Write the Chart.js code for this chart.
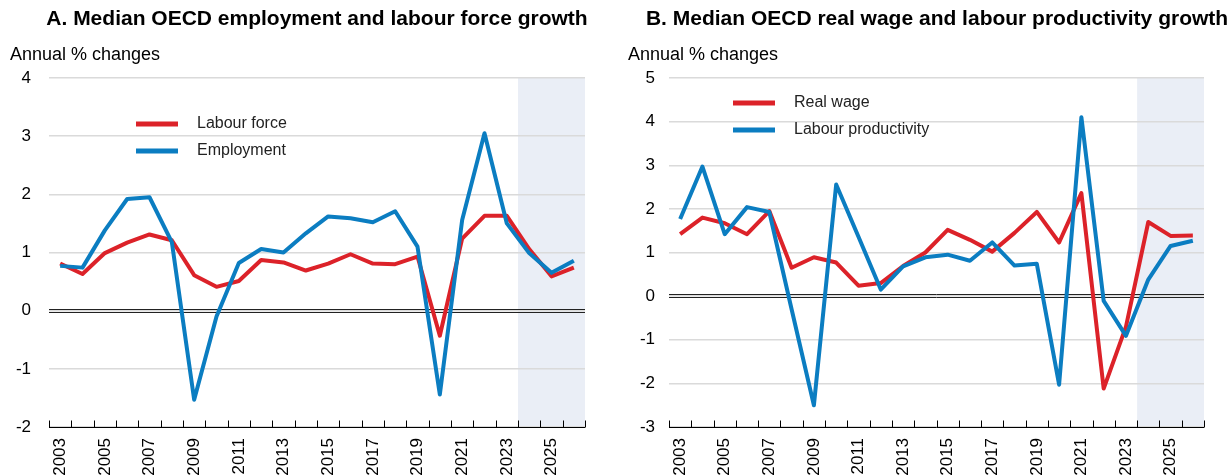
<!DOCTYPE html>
<html>
<head>
<meta charset="utf-8">
<script src="https://cdn.jsdelivr.net/npm/chart.js@4"></script>
<style>
  body { margin: 0; background: #fff; font-family: "Liberation Sans", Arial, sans-serif; }
  #wrap { position: relative; width: 1229px; height: 475px; overflow: hidden; }
  .title { position: absolute; top: 6px; width: 640px; text-align: center; font-weight: bold; font-size: 21px; color: #000; white-space: nowrap; }
  .unit { position: absolute; top: 44px; font-size: 18px; color: #000; white-space: nowrap; }
  canvas { position: absolute; top: 0; }
</style>
</head>
<body>
<div id="wrap">
  <canvas id="chartA" width="615" height="475" style="left:0px"></canvas>
  <canvas id="chartB" width="614" height="475" style="left:615px"></canvas>
  <div class="title" style="left:-3px">A. Median OECD employment and labour force growth</div>
  <div class="title" style="left:617px">B. Median OECD real wage and labour productivity growth</div>
  <div class="unit" style="left:10px">Annual % changes</div>
  <div class="unit" style="left:628px">Annual % changes</div>
</div>
<script>
// Years on the x axis (2024 onwards are projections, shaded)
const years = ['2003', '2004', '2005', '2006', '2007', '2008', '2009', '2010', '2011', '2012', '2013', '2014',
  '2015', '2016', '2017', '2018', '2019', '2020', '2021', '2022', '2023', '2024', '2025', '2026'];
const projectionStart = '2024';

// Panel A
const labourForce = [0.81, 0.63, 0.99, 1.17, 1.31, 1.21, 0.61, 0.41, 0.51, 0.87, 0.83, 0.69,
  0.81, 0.97, 0.81, 0.8, 0.93, -0.43, 1.24, 1.63, 1.63, 1.06, 0.59, 0.74];
const employment = [0.77, 0.74, 1.38, 1.92, 1.95, 1.18, -1.53, -0.1, 0.82, 1.06, 1.0, 1.33,
  1.62, 1.59, 1.52, 1.71, 1.1, -1.44, 1.56, 3.05, 1.5, 0.99, 0.65, 0.86];
const yTicksA = { min: -2, max: 4 };

// Panel B
const realWage = [1.42, 1.8, 1.67, 1.42, 1.95, 0.65, 0.89, 0.77, 0.24, 0.3, 0.69, 1.0,
  1.52, 1.29, 1.02, 1.45, 1.93, 1.23, 2.36, -2.12, -0.7, 1.7, 1.38, 1.39];
const labourProductivity = [1.77, 2.97, 1.42, 2.04, 1.93, -0.3, -2.5, 2.56, 1.36, 0.15, 0.68, 0.89,
  0.95, 0.81, 1.23, 0.7, 0.74, -2.03, 4.1, -0.11, -0.91, 0.38, 1.15, 1.27];
const yTicksB = { min: -3, max: 5 };

const RED = '#dc2229';
const BLUE = '#0b7dc1';
const FONT = '"Liberation Sans", Arial, sans-serif';

// Shading, zero line, bottom axis with inward ticks, and in-plot legend
const decorPlugin = {
  id: 'decor',
  beforeDraw(chart) {
    const { ctx, chartArea } = chart;
    const x = chart.scales.x;
    const half = (x.getPixelForValue(1) - x.getPixelForValue(0)) / 2;
    const xs = x.getPixelForValue(years.indexOf(projectionStart)) - half;
    ctx.save();
    ctx.fillStyle = '#eaeef6';
    ctx.fillRect(xs, chartArea.top, chartArea.right - xs, chartArea.bottom - chartArea.top);
    ctx.restore();
  },
  beforeDatasetsDraw(chart) {
    const { ctx, chartArea } = chart;
    const x = chart.scales.x;
    const y0 = Math.round(chart.scales.y.getPixelForValue(0));
    const half = (x.getPixelForValue(1) - x.getPixelForValue(0)) / 2;
    ctx.save();
    ctx.strokeStyle = '#222';
    ctx.lineWidth = 1;
    ctx.beginPath();
    ctx.moveTo(chartArea.left, y0 - 1.5);
    ctx.lineTo(chartArea.right, y0 - 1.5);
    ctx.moveTo(chartArea.left, y0 + 1.5);
    ctx.lineTo(chartArea.right, y0 + 1.5);
    ctx.stroke();
    // bottom axis
    const yb = Math.round(chartArea.bottom) + 0.5;
    ctx.strokeStyle = '#000';
    ctx.beginPath();
    ctx.moveTo(chartArea.left, yb);
    ctx.lineTo(chartArea.right, yb);
    for (let i = 0; i <= years.length; i++) {
      const px = Math.round(x.getPixelForValue(0) - half + i * 2 * half) + 0.5;
      ctx.moveTo(px, yb);
      ctx.lineTo(px, yb - 7);
    }
    ctx.stroke();
    ctx.restore();
  },
  afterDraw(chart) {
    const lg = chart.options.plugins.decor;
    const { ctx } = chart;
    ctx.save();
    ctx.font = '16px ' + FONT;
    ctx.textBaseline = 'middle';
    lg.items.forEach((it, i) => {
      const y = lg.y + i * lg.gap;
      ctx.strokeStyle = it.color;
      ctx.lineWidth = 5;
      ctx.beginPath();
      ctx.moveTo(lg.x, y);
      ctx.lineTo(lg.x + 42, y);
      ctx.stroke();
      ctx.fillStyle = '#222';
      ctx.fillText(it.label, lg.x + 61, y);
    });
    ctx.restore();
  }
};

function makeChart(id, series, yRange, yWidth, rightPad, legend) {
  return new Chart(document.getElementById(id), {
    type: 'line',
    data: {
      labels: years,
      datasets: series.map(s => ({
        label: s.label,
        data: s.data,
        borderColor: s.color,
        borderWidth: 4,
        borderJoinStyle: 'round',
        borderCapStyle: 'butt',
        pointRadius: 0,
        tension: 0,
        fill: false
      }))
    },
    options: {
      responsive: false,
      animation: false,
      devicePixelRatio: 1,
      layout: { padding: { top: 78, right: rightPad, bottom: 0, left: 0 } },
      plugins: {
        legend: { display: false },
        tooltip: { enabled: false },
        decor: legend
      },
      scales: {
        x: {
          type: 'category',
          offset: true,
          grid: { display: false },
          border: { display: false },
          ticks: {
            autoSkip: false,
            minRotation: 90,
            maxRotation: 90,
            padding: 3,
            color: '#000',
            font: { family: FONT, size: 17 },
            callback: (v, i) => (i % 2 === 0 ? years[i] : '')
          },
          afterFit: s => { s.height = 48; }
        },
        y: {
          min: yRange.min,
          max: yRange.max,
          grid: { color: '#dadada', lineWidth: 1.5, drawTicks: false },
          border: { display: false },
          ticks: {
            stepSize: 1,
            padding: yWidth.pad,
            color: '#000',
            font: { family: FONT, size: 17 }
          },
          afterFit: s => { s.width = yWidth.w; }
        }
      }
    },
    plugins: [decorPlugin]
  });
}

// blue listed first so it is drawn on top
makeChart('chartA',
  [{ label: 'Employment', data: employment, color: BLUE },
   { label: 'Labour force', data: labourForce, color: RED }],
  yTicksA, { w: 49, pad: 18 }, 30,
  { x: 136, y: 124, gap: 27, items: [{ label: 'Labour force', color: RED }, { label: 'Employment', color: BLUE }] });

makeChart('chartB',
  [{ label: 'Labour productivity', data: labourProductivity, color: BLUE },
   { label: 'Real wage', data: realWage, color: RED }],
  yTicksB, { w: 54, pad: 14 }, 25,
  { x: 118, y: 103, gap: 27, items: [{ label: 'Real wage', color: RED }, { label: 'Labour productivity', color: BLUE }] });
</script>
</body>
</html>
